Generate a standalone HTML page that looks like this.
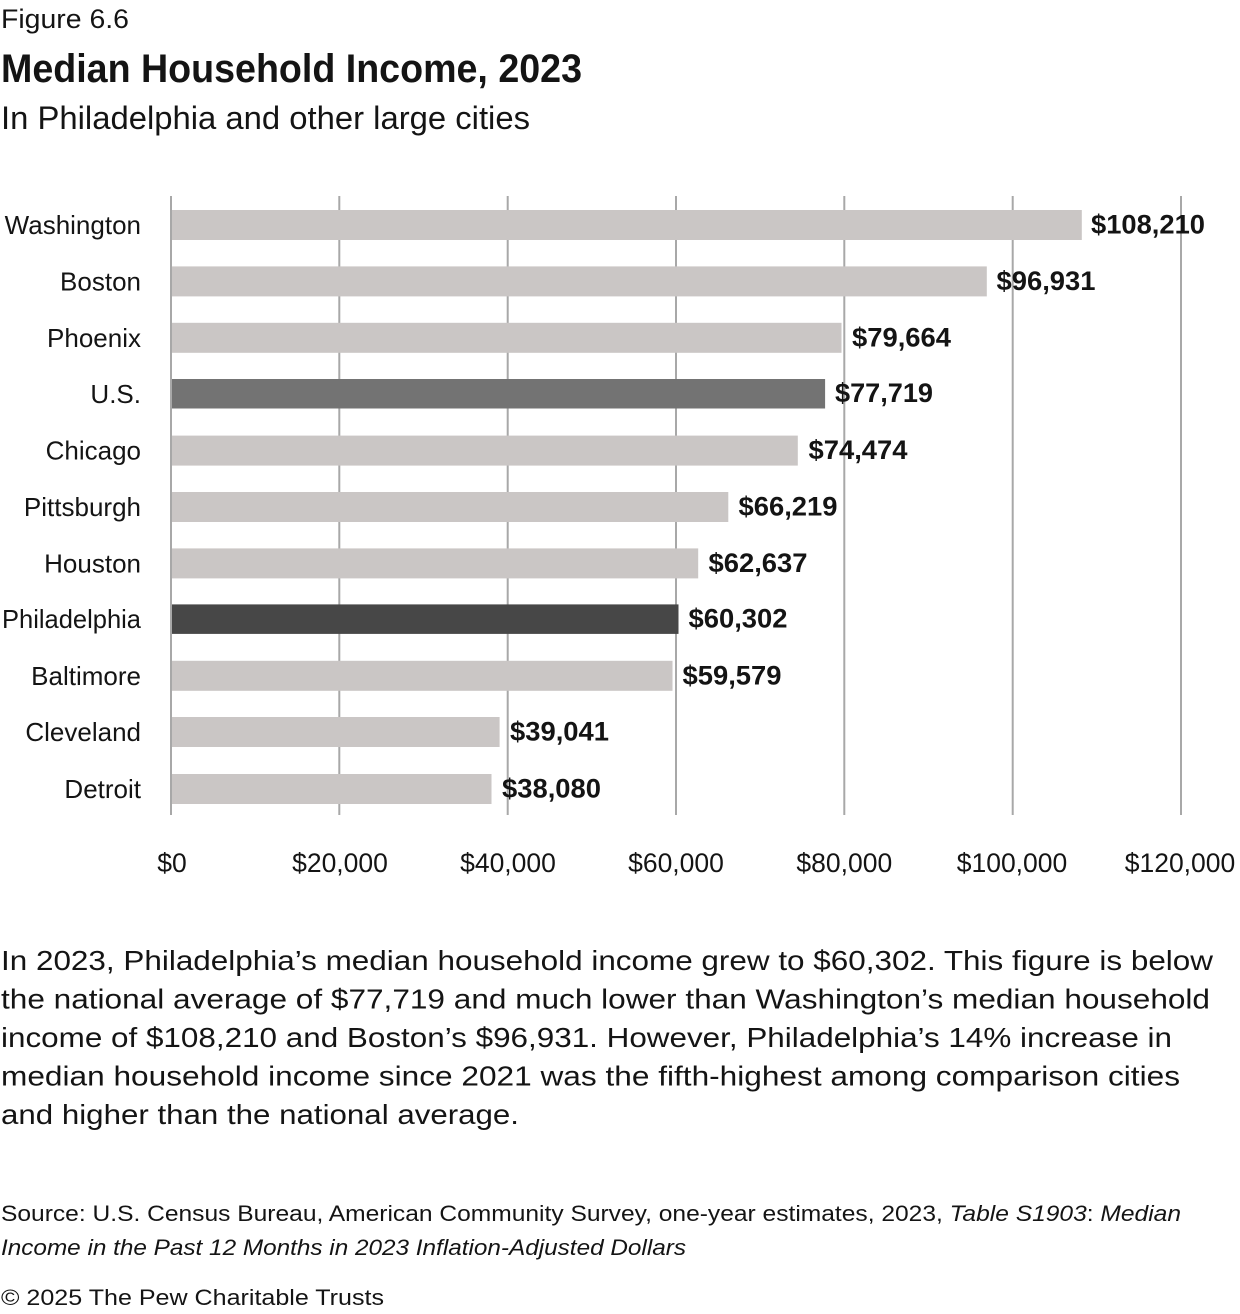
<!DOCTYPE html>
<html>
<head>
<meta charset="utf-8">
<style>
  html, body { margin:0; padding:0; background:#ffffff; }
  svg { display:block; }
  text { font-family: "Liberation Sans", sans-serif; fill:#141414; }
</style>
</head>
<body>
<svg width="1240" height="1314" viewBox="0 0 1240 1314" xmlns="http://www.w3.org/2000/svg">
  <rect x="0" y="0" width="1240" height="1314" fill="#ffffff"/>

  <!-- Header -->
  <text x="1" y="28" font-size="27" textLength="128" lengthAdjust="spacingAndGlyphs">Figure 6.6</text>
  <text x="1" y="82" font-size="40" font-weight="bold" textLength="581" lengthAdjust="spacingAndGlyphs">Median Household Income, 2023</text>
  <text x="1" y="129" font-size="32" textLength="529" lengthAdjust="spacingAndGlyphs">In Philadelphia and other large cities</text>

  <!-- Gridlines -->
  <g stroke="#a8a8a8" stroke-width="2">
    <line x1="171" y1="196" x2="171" y2="815"/>
    <line x1="339.3" y1="196" x2="339.3" y2="815"/>
    <line x1="507.7" y1="196" x2="507.7" y2="815"/>
    <line x1="676" y1="196" x2="676" y2="815"/>
    <line x1="844.3" y1="196" x2="844.3" y2="815"/>
    <line x1="1012.7" y1="196" x2="1012.7" y2="815"/>
    <line x1="1181" y1="196" x2="1181" y2="815"/>
  </g>

  <!-- Bars -->
  <g>
    <rect x="172" y="210" width="909.8" height="30" fill="#cac6c5"/>
    <rect x="172" y="266.4" width="814.8" height="30" fill="#cac6c5"/>
    <rect x="172" y="322.8" width="669.5" height="30" fill="#cac6c5"/>
    <rect x="172" y="379" width="653.1" height="29.5" fill="#737373"/>
    <rect x="172" y="435.6" width="625.8" height="30" fill="#cac6c5"/>
    <rect x="172" y="492" width="556.3" height="30" fill="#cac6c5"/>
    <rect x="172" y="548.4" width="526.2" height="30" fill="#cac6c5"/>
    <rect x="172" y="604.4" width="506.5" height="29.5" fill="#474747"/>
    <rect x="172" y="660.8" width="500.5" height="30" fill="#cac6c5"/>
    <rect x="172" y="717" width="327.6" height="30" fill="#cac6c5"/>
    <rect x="172" y="774" width="319.5" height="30" fill="#cac6c5"/>
  </g>

  <!-- City labels -->
  <g font-size="26" text-anchor="end">
    <text x="141" y="234">Washington</text>
    <text x="141" y="290.4">Boston</text>
    <text x="141" y="346.8">Phoenix</text>
    <text x="141" y="403">U.S.</text>
    <text x="141" y="459.6">Chicago</text>
    <text x="141" y="516">Pittsburgh</text>
    <text x="141" y="572.4">Houston</text>
    <text x="141" y="628" textLength="139" lengthAdjust="spacingAndGlyphs">Philadelphia</text>
    <text x="141" y="685">Baltimore</text>
    <text x="141" y="741">Cleveland</text>
    <text x="141" y="798">Detroit</text>
  </g>

  <!-- Value labels -->
  <g font-size="26.5" font-weight="bold">
    <text x="1091" y="233.5" textLength="114" lengthAdjust="spacingAndGlyphs">$108,210</text>
    <text x="996.5" y="289.9" textLength="99" lengthAdjust="spacingAndGlyphs">$96,931</text>
    <text x="852" y="346.3" textLength="99" lengthAdjust="spacingAndGlyphs">$79,664</text>
    <text x="835" y="402.2" textLength="98" lengthAdjust="spacingAndGlyphs">$77,719</text>
    <text x="808.5" y="459.1" textLength="99" lengthAdjust="spacingAndGlyphs">$74,474</text>
    <text x="738.5" y="515.5" textLength="99" lengthAdjust="spacingAndGlyphs">$66,219</text>
    <text x="708.5" y="571.9" textLength="99" lengthAdjust="spacingAndGlyphs">$62,637</text>
    <text x="688.5" y="627.6" textLength="99" lengthAdjust="spacingAndGlyphs">$60,302</text>
    <text x="682.5" y="684.3" textLength="99" lengthAdjust="spacingAndGlyphs">$59,579</text>
    <text x="510" y="740.5" textLength="99" lengthAdjust="spacingAndGlyphs">$39,041</text>
    <text x="502" y="797.5" textLength="99" lengthAdjust="spacingAndGlyphs">$38,080</text>
  </g>

  <!-- Axis tick labels -->
  <g font-size="26.5" text-anchor="middle">
    <text x="172" y="872">$0</text>
    <text x="340" y="872">$20,000</text>
    <text x="508" y="872">$40,000</text>
    <text x="676" y="872">$60,000</text>
    <text x="844.3" y="872">$80,000</text>
    <text x="1012" y="872">$100,000</text>
    <text x="1180" y="872">$120,000</text>
  </g>

  <!-- Paragraph -->
  <g font-size="27.5">
    <text x="1" y="970" textLength="1212" lengthAdjust="spacingAndGlyphs">In 2023, Philadelphia’s median household income grew to $60,302. This figure is below</text>
    <text x="1" y="1008.5" textLength="1209" lengthAdjust="spacingAndGlyphs">the national average of $77,719 and much lower than Washington’s median household</text>
    <text x="1" y="1047" textLength="1171" lengthAdjust="spacingAndGlyphs">income of $108,210 and Boston’s $96,931. However, Philadelphia’s 14% increase in</text>
    <text x="1" y="1085.5" textLength="1179" lengthAdjust="spacingAndGlyphs">median household income since 2021 was the fifth-highest among comparison cities</text>
    <text x="1" y="1124" textLength="518" lengthAdjust="spacingAndGlyphs">and higher than the national average.</text>
  </g>

  <!-- Source -->
  <g font-size="22">
    <text x="1" y="1221" textLength="1180" lengthAdjust="spacingAndGlyphs">Source: U.S. Census Bureau, American Community Survey, one-year estimates, 2023, <tspan font-style="italic">Table S1903</tspan>: <tspan font-style="italic">Median</tspan></text>
    <text x="1" y="1255" font-style="italic" textLength="685" lengthAdjust="spacingAndGlyphs">Income in the Past 12 Months in 2023 Inflation-Adjusted Dollars</text>
    <text x="1" y="1305" textLength="383" lengthAdjust="spacingAndGlyphs">© 2025 The Pew Charitable Trusts</text>
  </g>
</svg>
</body>
</html>
